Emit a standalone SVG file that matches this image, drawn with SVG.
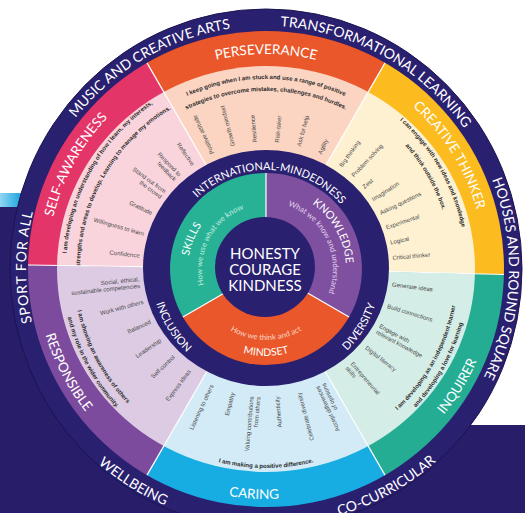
<svg xmlns="http://www.w3.org/2000/svg" width="525" height="513" viewBox="0 0 525 513">
<defs>
<style>
.lab{font-family:Lato,"Open Sans","Liberation Sans",sans-serif;fill:#fff}
.out{font-size:14px}
.bd{font-size:13.5px}
.mid{font-size:11px}
.inn{font-size:11px}
.sub{font-size:7.8px}
.it{font-family:"Liberation Sans",Arial,sans-serif;font-size:6px;fill:#4a4a4a}
.in{text-anchor:end}
.st{font-family:"Liberation Sans",Arial,sans-serif;font-size:6px;font-weight:bold;fill:#2a2a2a}
.sep{stroke:#fff;stroke-width:1.2;fill:none}
</style>
<clipPath id="cb"><circle cx="266" cy="269" r="238"/></clipPath>
<clipPath id="cl"><ellipse cx="266" cy="269" rx="209" ry="203"/></clipPath>
<linearGradient id="streak" x1="0" x2="1" y1="0" y2="0">
<stop offset="0" stop-color="#8fd6f4"/><stop offset="0.45" stop-color="#2aa9e0"/><stop offset="1" stop-color="#2aa9e0" stop-opacity="0"/>
</linearGradient>
<path id="cw243" d="M266,26A243,243 0 0 1 266,512A243,243 0 0 1 266,26A243,243 0 0 1 266,512A243,243 0 0 1 266,26"/>
<path id="cw240" d="M266,29A240,240 0 0 1 266,509A240,240 0 0 1 266,29A240,240 0 0 1 266,509A240,240 0 0 1 266,29"/>
<path id="cw215" d="M266,54A215,215 0 0 1 266,484A215,215 0 0 1 266,54A215,215 0 0 1 266,484A215,215 0 0 1 266,54"/>
<path id="cw219" d="M266,50A219,219 0 0 1 266,488A219,219 0 0 1 266,50A219,219 0 0 1 266,488A219,219 0 0 1 266,50"/>
<path id="cw190" d="M266,79A190,190 0 0 1 266,459A190,190 0 0 1 266,79A190,190 0 0 1 266,459A190,190 0 0 1 266,79"/>
<path id="cw178" d="M266,91A178,178 0 0 1 266,447A178,178 0 0 1 266,91A178,178 0 0 1 266,447A178,178 0 0 1 266,91"/>
<path id="cw200" d="M266,69A200,200 0 0 1 266,469A200,200 0 0 1 266,69A200,200 0 0 1 266,469A200,200 0 0 1 266,69"/>
<path id="cw186" d="M266,83A186,186 0 0 1 266,455A186,186 0 0 1 266,83A186,186 0 0 1 266,455A186,186 0 0 1 266,83"/>
<path id="cw99" d="M266,170A99,99 0 0 1 266,368A99,99 0 0 1 266,170A99,99 0 0 1 266,368A99,99 0 0 1 266,170"/>
<path id="cw78" d="M266,191A78,78 0 0 1 266,347A78,78 0 0 1 266,191A78,78 0 0 1 266,347A78,78 0 0 1 266,191"/>
<path id="cw80" d="M266,189A80,80 0 0 1 266,349A80,80 0 0 1 266,189A80,80 0 0 1 266,349A80,80 0 0 1 266,189"/>
<path id="cw64" d="M266,205A64,64 0 0 1 266,333A64,64 0 0 1 266,205A64,64 0 0 1 266,333A64,64 0 0 1 266,205"/>
<path id="cw67" d="M266,202A67,67 0 0 1 266,336A67,67 0 0 1 266,202A67,67 0 0 1 266,336A67,67 0 0 1 266,202"/>
<path id="ccw257" d="M266,12A257,257 0 0 0 266,526A257,257 0 0 0 266,12A257,257 0 0 0 266,526A257,257 0 0 0 266,12"/>
<path id="ccw230" d="M266,39A230,230 0 0 0 266,499A230,230 0 0 0 266,39A230,230 0 0 0 266,499A230,230 0 0 0 266,39"/>
<path id="ccw115" d="M266,154A115,115 0 0 0 266,384A115,115 0 0 0 266,154A115,115 0 0 0 266,384A115,115 0 0 0 266,154"/>
<path id="ccw87" d="M266,182A87,87 0 0 0 266,356A87,87 0 0 0 266,182A87,87 0 0 0 266,356A87,87 0 0 0 266,182"/>
<path id="ccw71" d="M266,198A71,71 0 0 0 266,340A71,71 0 0 0 266,198A71,71 0 0 0 266,340A71,71 0 0 0 266,198"/>
<path id="ccw193" d="M266,76A193,193 0 0 0 266,462A193,193 0 0 0 266,76A193,193 0 0 0 266,462A193,193 0 0 0 266,76"/>
<path id="ccw204" d="M266,65A204,204 0 0 0 266,473A204,204 0 0 0 266,65A204,204 0 0 0 266,473A204,204 0 0 0 266,65"/>
<path id="ccw199" d="M266,70A199,199 0 0 0 266,468A199,199 0 0 0 266,70A199,199 0 0 0 266,468A199,199 0 0 0 266,70"/>
</defs>

<rect width="525" height="513" fill="#fff"/>
<rect x="0" y="207" width="120" height="306" fill="#271d69"/>
<rect x="0" y="425" width="525" height="88" fill="#271d69"/>
<rect x="0" y="193" width="42" height="14" fill="url(#streak)"/>

<ellipse id="outer-disc" cx="266" cy="269" rx="256" ry="260" fill="#2a2070" stroke="#1a1450" stroke-width="1"/>

<g id="perseverance">
<path clip-path="url(#cb)" fill="#e9572b" d="M266,269L116,9.2L416,9.2Z"/>
<path clip-path="url(#cl)" fill="#fbd5c2" d="M266,269L116,9.2L416,9.2Z"/>
<text class="lab bd" text-anchor="middle"><textPath href="#cw215" startOffset="50%">PERSEVERANCE</textPath></text>
<text class="st" text-anchor="middle"><textPath href="#cw190" startOffset="50%">I keep going when I am stuck and use a range of positive</textPath></text>
<text class="st" text-anchor="middle"><textPath href="#cw178" startOffset="50%">strategies to overcome mistakes, challenges and hurdles.</textPath></text>
<g class="it">
<text transform="translate(266 269) rotate(-25) translate(0 -127) rotate(-90)" y="2">Positive attitude</text>
<text transform="translate(266 269) rotate(-15) translate(0 -127) rotate(-90)" y="2">Growth mindset</text>
<text transform="translate(266 269) rotate(-5) translate(0 -127) rotate(-90)" y="2">Resilience</text>
<text transform="translate(266 269) rotate(5) translate(0 -127) rotate(-90)" y="2">Risk-taker</text>
<text transform="translate(266 269) rotate(15) translate(0 -127) rotate(-90)" y="2">Ask for help</text>
<text transform="translate(266 269) rotate(25) translate(0 -127) rotate(-90)" y="2">Agility</text>
</g>
</g>

<g id="creative-thinker">
<path clip-path="url(#cb)" fill="#fcbb1f" d="M266,269L416,9.2L566,276Z"/>
<path clip-path="url(#cl)" fill="#fef1d2" d="M266,269L416,9.2L566,276Z"/>
<text class="lab bd" text-anchor="middle"><textPath href="#cw219" startOffset="58.08%">CREATIVE THINKER</textPath></text>
<text class="st" text-anchor="middle"><textPath href="#cw200" startOffset="58.33%">I can engage with new ideas and knowledge</textPath></text>
<text class="st" text-anchor="middle"><textPath href="#cw186" startOffset="58.33%">and think outside the box.</textPath></text>
<g class="it">
<text transform="translate(266 269) rotate(36) translate(0 -127) rotate(-90)" y="2">Big thinking</text>
<text transform="translate(266 269) rotate(43) translate(0 -127) rotate(-90)" y="2">Problem solving</text>
<text transform="translate(266 269) rotate(50) translate(0 -127) rotate(-90)" y="2">Zest</text>
<text transform="translate(266 269) rotate(57) translate(0 -127) rotate(-90)" y="2">Imagination</text>
<text transform="translate(266 269) rotate(64) translate(0 -127) rotate(-90)" y="2">Asking questions</text>
<text transform="translate(266 269) rotate(71) translate(0 -127) rotate(-90)" y="2">Experimental</text>
<text transform="translate(266 269) rotate(78) translate(0 -127) rotate(-90)" y="2">Logical</text>
<text transform="translate(266 269) rotate(85) translate(0 -127) rotate(-90)" y="2">Critical thinker</text>
</g>
</g>

<g id="inquirer">
<path clip-path="url(#cb)" fill="#24ad93" d="M266,269L566,276L416,528.8Z"/>
<path clip-path="url(#cl)" fill="#d5ede7" d="M266,269L566,276L416,528.8Z"/>
<text class="lab bd" text-anchor="middle"><textPath href="#ccw230" startOffset="33.13%">INQUIRER</textPath></text>
<text class="st" text-anchor="middle"><textPath href="#ccw193" startOffset="33.47%">I am developing as an independent learner</textPath></text>
<text class="st" text-anchor="middle"><textPath href="#ccw204" startOffset="33.47%">and developing a love for learning</textPath></text>
<g class="it">
<text transform="translate(266 269) rotate(97) translate(0 -127) rotate(-90)" y="2">Generate ideas</text>
<text transform="translate(266 269) rotate(107) translate(0 -127) rotate(-90)" y="2">Build connections</text>
<text transform="translate(266 269) rotate(118) translate(0 -127) rotate(-90)"><tspan x="0" y="-1.2">Engage with</tspan><tspan x="0" y="5.6">relevant knowledge</tspan></text>
<text transform="translate(266 269) rotate(128) translate(0 -127) rotate(-90)" y="2">Digital literacy</text>
<text transform="translate(266 269) rotate(139) translate(0 -127) rotate(-90)"><tspan x="0" y="-1.2">Entrepreneurial</tspan><tspan x="0" y="5.6">skills</tspan></text>
</g>
</g>

<g id="caring">
<path clip-path="url(#cb)" fill="#17ade2" d="M266,269L416,528.8L116,528.8Z"/>
<path clip-path="url(#cl)" fill="#d3ebf7" d="M266,269L416,528.8L116,528.8Z"/>
<text class="lab bd" text-anchor="middle"><textPath href="#ccw230" startOffset="74.58%">CARING</textPath></text>
<text class="st" text-anchor="middle"><textPath href="#ccw199" startOffset="25%">I am making a positive difference.</textPath></text>
<g class="it in">
<text transform="translate(266 269) rotate(205) translate(0 -128) rotate(90)" y="2">Listening to others</text>
<text transform="translate(266 269) rotate(195) translate(0 -128) rotate(90)" y="2">Empathy</text>
<text transform="translate(266 269) rotate(185) translate(0 -128) rotate(90)"><tspan x="0" y="-1.2">Valuing contributions</tspan><tspan x="0" y="5.6">from others</tspan></text>
<text transform="translate(266 269) rotate(175) translate(0 -128) rotate(90)" y="2">Authenticity</text>
<text transform="translate(266 269) rotate(165) translate(0 -128) rotate(90)" y="2">Celebrate diversity</text>
<text transform="translate(266 269) rotate(155) translate(0 -128) rotate(90)"><tspan x="0" y="-1.2">Accept differences</tspan><tspan x="0" y="5.6">of opinions</tspan></text>
</g>
</g>

<g id="responsible">
<path clip-path="url(#cb)" fill="#7d4b9d" d="M266,269L116,528.8L-34,264Z"/>
<path clip-path="url(#cl)" fill="#dccbe3" d="M266,269L116,528.8L-34,264Z"/>
<text class="lab bd" text-anchor="middle"><textPath href="#ccw230" startOffset="66.32%">RESPONSIBLE</textPath></text>
<text class="st" text-anchor="middle"><textPath href="#ccw193" startOffset="66.43%">I am showing an awareness of others</textPath></text>
<text class="st" text-anchor="middle"><textPath href="#ccw204" startOffset="66.43%">and my role in the wider community.</textPath></text>
<g class="it in">
<text transform="translate(266 269) rotate(264) translate(0 -127) rotate(90)"><tspan x="0" y="-1.2">Social, ethical,</tspan><tspan x="0" y="5.6">sustainable competencies</tspan></text>
<text transform="translate(266 269) rotate(255) translate(0 -127) rotate(90)" y="2">Work with others</text>
<text transform="translate(266 269) rotate(245.5) translate(0 -127) rotate(90)" y="2">Balanced</text>
<text transform="translate(266 269) rotate(236) translate(0 -127) rotate(90)" y="2">Leadership</text>
<text transform="translate(266 269) rotate(226.5) translate(0 -127) rotate(90)" y="2">Self-control</text>
<text transform="translate(266 269) rotate(217) translate(0 -127) rotate(90)" y="2">Express ideas</text>
</g>
</g>

<g id="self-awareness">
<path clip-path="url(#cb)" fill="#e43569" d="M266,269L-34,264L116,9.2Z"/>
<path clip-path="url(#cl)" fill="#f9d4dc" d="M266,269L-34,264L116,9.2Z"/>
<text class="lab bd" text-anchor="middle"><textPath href="#cw219" startOffset="41.49%">SELF-AWARENESS</textPath></text>
<text class="st" text-anchor="middle"><textPath href="#cw200" startOffset="41.67%">I am developing an understanding of how I learn, my interests,</textPath></text>
<text class="st" text-anchor="middle"><textPath href="#cw186" startOffset="41.67%">strengths and areas to develop. Learning to manage my emotions.</textPath></text>
<g class="it in">
<text transform="translate(266 269) rotate(325) translate(0 -127) rotate(90)" y="2">Reflective</text>
<text transform="translate(266 269) rotate(316) translate(0 -127) rotate(90)"><tspan x="0" y="-1.2">Respond to</tspan><tspan x="0" y="5.6">feedback</tspan></text>
<text transform="translate(266 269) rotate(306) translate(0 -127) rotate(90)"><tspan x="0" y="-1.2">Stand out from</tspan><tspan x="0" y="5.6">the crowd</tspan></text>
<text transform="translate(266 269) rotate(296) translate(0 -127) rotate(90)" y="2">Gratitude</text>
<text transform="translate(266 269) rotate(286) translate(0 -127) rotate(90)" y="2">Willingness to learn</text>
<text transform="translate(266 269) rotate(276) translate(0 -127) rotate(90)" y="2">Confidence</text>
</g>
</g>

<g id="connectors" class="sep">
<line x1="216" y1="182.4" x2="147" y2="62.9"/>
<line x1="316" y1="182.4" x2="385" y2="62.9"/>
<line x1="366" y1="271" x2="504" y2="274.5"/>
<line x1="316" y1="355.6" x2="385" y2="475.1"/>
<line x1="216" y1="355.6" x2="147" y2="475.1"/>
<line x1="166" y1="267" x2="28" y2="265"/>
</g>

<g id="middle-ring">
<ellipse cx="266" cy="268" rx="123" ry="118" fill="#2a2070"/>
<text class="lab mid" text-anchor="middle"><textPath href="#cw99" startOffset="50.36%">INTERNATIONAL-MINDEDNESS</textPath></text>
<text class="lab mid" text-anchor="middle"><textPath href="#ccw115" startOffset="33.11%">DIVERSITY</textPath></text>
<text class="lab mid" text-anchor="middle"><textPath href="#ccw115" startOffset="66.94%">INCLUSION</textPath></text>
</g>

<g id="skills">
<path fill="#27b296" d="M266,269L182.9,317A96,96 0 0 1 266,173Z"/>
<text class="lab inn" text-anchor="middle"><textPath href="#cw78" startOffset="40.56%">SKILLS</textPath></text>
<text class="lab sub" style="fill:#c4ecdf" text-anchor="middle"><textPath href="#cw64" startOffset="41.33%">How we use what we know</textPath></text>
</g>
<g id="knowledge">
<path fill="#8050a0" d="M266,269L266,173A96,96 0 0 1 349.1,317Z"/>
<text class="lab inn" text-anchor="middle"><textPath href="#cw80" startOffset="58.43%">KNOWLEDGE</textPath></text>
<text class="lab sub" style="fill:#e2d3ee" text-anchor="middle"><textPath href="#cw67" startOffset="59.03%">What we know and understand</textPath></text>
</g>
<g id="mindset">
<path fill="#e9572b" d="M266,269L349.1,317A96,96 0 0 1 182.9,317Z"/>
<text class="lab inn" style="font-size:10.5px" text-anchor="middle"><textPath href="#ccw87" startOffset="25%">MINDSET</textPath></text>
<text class="lab sub" style="fill:#fcd6c4" text-anchor="middle"><textPath href="#ccw71" startOffset="25%">How we think and act</textPath></text>
</g>
<g id="inner-separators" class="sep">
<line x1="266" y1="221" x2="266" y2="173"/>
<line x1="307.6" y1="293" x2="349.1" y2="317"/>
<line x1="224.4" y1="293" x2="182.9" y2="317"/>
</g>

<g id="core">
<circle cx="265" cy="267" r="50" fill="#2a2070"/>
<text class="lab" style="font-size:15px" text-anchor="middle" x="265" y="258.5">HONESTY</text>
<text class="lab" style="font-size:15px" text-anchor="middle" x="265" y="274.5">COURAGE</text>
<text class="lab" style="font-size:15px" text-anchor="middle" x="265" y="290.5">KINDNESS</text>
</g>

<g id="outer-labels" class="lab out">
<text text-anchor="middle"><textPath href="#cw243" startOffset="45.83%">MUSIC AND CREATIVE ARTS</textPath></text>
<text text-anchor="middle"><textPath href="#cw243" startOffset="54.03%">TRANSFORMATIONAL LEARNING</textPath></text>
<text text-anchor="middle"><textPath href="#cw243" startOffset="62.83%">HOUSES AND ROUND SQUARE</textPath></text>
<text text-anchor="middle"><textPath href="#ccw257" startOffset="29.03%">CO-CURRICULAR</textPath></text>
<text text-anchor="middle"><textPath href="#ccw257" startOffset="70.56%">WELLBEING</textPath></text>
<text text-anchor="middle" letter-spacing="0.8"><textPath href="#cw240" startOffset="37.57%">SPORT FOR ALL</textPath></text>
</g>
</svg>
